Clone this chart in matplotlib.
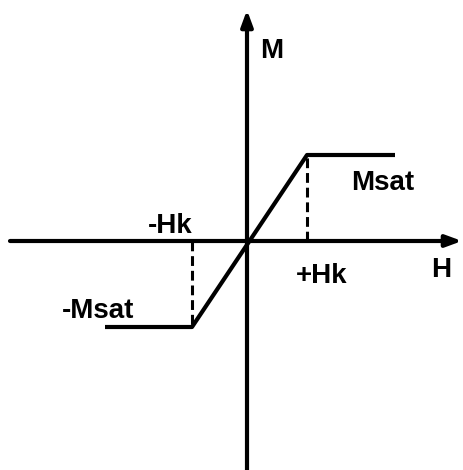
import matplotlib.pyplot as plt

# magnetisation curve (arbitrary units, origin at axes crossing)
H_curve = [-143, -56, 59, 147]
M_curve = [-86, -86, 86, 86]
Hk_neg = -56
Hk_pos = 59
Msat = 86

plt.rcParams['font.family'] = ['Liberation Sans', 'DejaVu Sans']

fig = plt.figure(figsize=(4.63, 4.70), dpi=100)
ax = fig.add_axes([0, 0, 1, 1])
ax.set_xlim(-248, 215)
ax.set_ylim(-229, 241)
ax.axis('off')

# axes with arrows
arrow = dict(arrowstyle='-|>,head_length=0.95,head_width=0.35',
             lw=3, color='black', shrinkA=0, shrinkB=0)
ax.annotate('', xy=(214, 0), xytext=(-238, 0), arrowprops=arrow,
            annotation_clip=False)
ax.annotate('', xy=(-1, 231), xytext=(-1, -229), arrowprops=arrow,
            annotation_clip=False)

ax.plot(H_curve, M_curve, color='black', lw=3, solid_capstyle='butt')
ax.plot([Hk_neg, Hk_neg], [0, -Msat], color='black', lw=2.2, ls=(0, (3.2, 1.6)))
ax.plot([Hk_pos, Hk_pos], [0, Msat], color='black', lw=2.2, ls=(0, (3.2, 1.6)))

fs = 20
ax.text(24, 183, 'M', fontsize=fs, fontweight='bold', ha='center', va='baseline')
ax.text(193, -36, 'H', fontsize=fs, fontweight='bold', ha='center', va='baseline')
ax.text(135, 51, 'Msat', fontsize=fs, fontweight='bold', ha='center', va='baseline')
ax.text(-150, -77, '-Msat', fontsize=fs, fontweight='bold', ha='center', va='baseline')
ax.text(-78, 8, '-Hk', fontsize=fs, fontweight='bold', ha='center', va='baseline')
ax.text(74, -42, '+Hk', fontsize=fs, fontweight='bold', ha='center', va='baseline')

plt.savefig('out.png', dpi=100)
